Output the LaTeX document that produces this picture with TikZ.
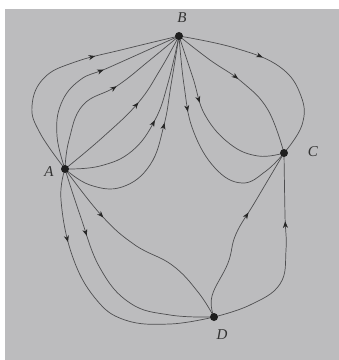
\documentclass[tikz,border=0pt]{standalone}
\usepackage{fontspec}
\setmainfont{Liberation Serif}
\usetikzlibrary{decorations.markings,arrows.meta}
\definecolor{paper}{RGB}{188,188,190}
\definecolor{ink}{RGB}{78,78,80}
\begin{document}
\begin{tikzpicture}[x=1pt,y=-1pt,
  edge/.style={draw=ink, line width=0.7pt},
  arr/.style={postaction={decorate,decoration={markings,mark=at position #1 with {\arrow{Stealth[length=6.5pt,width=5pt,inset=2pt,color=black!85]}}}}},
  vtx/.style={circle,fill=black!88,inner sep=0pt,minimum size=8pt},
  lbl/.style={font=\fontsize{15}{17}\selectfont\itshape, text=black!80}]
\useasboundingbox (0,0) rectangle (339,360);
\fill[paper] (0,0) rectangle (339,360);
\fill[white] (0,0) rectangle (339,9);
\fill[white] (0,0) rectangle (5,360);

\coordinate (A) at (65,169);
\coordinate (B) at (179,36);
\coordinate (C) at (284,153);
\coordinate (D) at (214,317);

% A -> B
\draw[edge,arr=0.65] plot[smooth,tension=0.7] coordinates {(A) (40,133) (32,106) (44,78) (75,62) (125,49) (B)};
\draw[edge,arr=0.60] plot[smooth,tension=0.7] coordinates {(A) (57,136) (61,104) (80,80) (110,67) (B)};
\draw[edge,arr=0.57] plot[smooth,tension=0.7] coordinates {(A) (69,140) (83,105) (117,86) (150,60) (B)};
\draw[edge,arr=0.56] plot[smooth,tension=0.7] coordinates {(A) (103,137) (138,103) (160,70) (B)};
\draw[edge,arr=0.555] plot[smooth,tension=0.7] coordinates {(A) (100,166) (132,151) (155,120) (168,83) (B)};
\draw[edge,arr=0.62] plot[smooth,tension=0.7] coordinates {(A) (90,185) (122,187) (150,165) (164,125) (171,85) (B)};

% B -> C
\draw[edge,arr=0.42] plot[smooth,tension=0.7] coordinates {(B) (235,48) (280,67) (301,96) (302,125) (C)};
\draw[edge,arr=0.45] plot[smooth,tension=0.7] coordinates {(B) (210,60) (242,82) (268,110) (C)};
\draw[edge,arr=0.39] plot[smooth,tension=0.7] coordinates {(B) (193,78) (205,115) (230,144) (258,156) (C)};
\draw[edge,arr=0.34] plot[smooth,tension=0.7] coordinates {(B) (184,85) (193,130) (215,168) (242,183) (266,171) (C)};

% A -> D
\draw[edge,arr=0.28] plot[smooth,tension=0.7] coordinates {(A) (61,200) (72,255) (95,298) (125,320) (170,324) (D)};
\draw[edge,arr=0.295] plot[smooth,tension=0.7] coordinates {(A) (80,215) (100,268) (130,303) (170,315) (D)};
\draw[edge,arr=0.29] plot[smooth,tension=0.7] coordinates {(A) (102,216) (135,245) (172,265) (198,292) (D)};

% D -> C
\draw[edge,arr=0.62] plot[smooth,tension=0.7] coordinates {(D) (212,296) (228,263) (236,234) (255,202) (C)};
\draw[edge,arr=0.67] plot[smooth,tension=0.7] coordinates {(D) (250,305) (280,284) (286,250) (285,215) (C)};

\node[vtx] (vA) at (A) {};
\node[vtx] (vB) at (B) {};
\node[vtx] (vC) at (C) {};
\node[vtx] (vD) at (D) {};

\node[lbl] (lA) at (49,172) {A};
\node[lbl] (lB) at (182,18) {B};
\node[lbl] (lC) at (313,152) {C};
\node[lbl] (lD) at (222,335) {D};
\end{tikzpicture}
\end{document}
